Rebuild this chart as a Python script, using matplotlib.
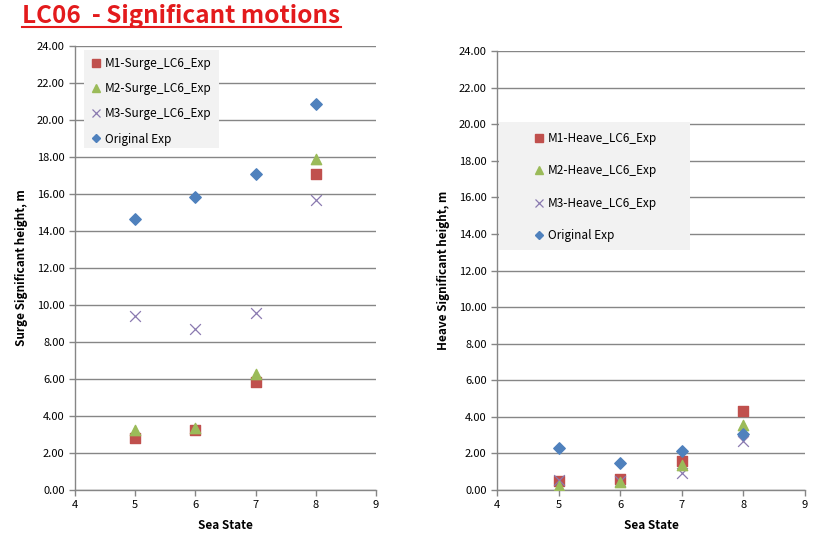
import matplotlib
matplotlib.use("Agg")
import matplotlib.pyplot as plt
from matplotlib.lines import Line2D
from matplotlib.patches import Rectangle

plt.rcParams['font.family'] = ['Noto Sans CJK KR', 'DejaVu Sans']

sea_state = [5, 6, 7, 8]

surge_m1 = [2.83, 3.24, 5.86, 17.06]
surge_m2 = [3.24, 3.37, 6.27, 17.87]
surge_m3 = [9.42, 8.68, 9.55, 15.68]
surge_orig = [14.65, 15.84, 17.06, 20.86]

heave_m1 = [0.49, 0.58, 1.57, 4.33]
heave_m2 = [0.22, 0.45, 1.35, 3.55]
heave_m3 = [0.55, 0.50, 0.91, 2.68]
heave_orig = [2.28, 1.47, 2.11, 3.08]

surge_labels = ["M1-Surge_LC6_Exp", "M2-Surge_LC6_Exp", "M3-Surge_LC6_Exp", "Original Exp"]
heave_labels = ["M1-Heave_LC6_Exp", "M2-Heave_LC6_Exp", "M3-Heave_LC6_Exp", "Original Exp"]
yticks = [0, 2, 4, 6, 8, 10, 12, 14, 16, 18, 20, 22, 24]
xticks = [4, 5, 6, 7, 8, 9]

c_red = '#C0504D'
c_green = '#9BBB59'
c_purple = '#8A7AB0'
c_blue = '#4F81BD'

fig = plt.figure(figsize=(8.19, 5.43), dpi=100)

ax1 = fig.add_axes([75/819, 1-490/543, 301/819, 444/543])
ax2 = fig.add_axes([497/819, 1-490/543, 308/819, 439/543])

def style(ax, ylabel):
    ax.set_xlim(4, 9)
    ax.set_ylim(0, 24)
    ax.set_xticks(xticks)
    ax.set_yticks(yticks)
    ax.set_yticklabels([f"{v:.2f}" for v in yticks])
    ax.tick_params(axis='both', labelsize=8, colors='#000000', length=4, width=1, direction='out', color='#868686')
    ax.grid(axis='y', color='#868686', linewidth=1)
    ax.set_axisbelow(True)
    for s in ['top', 'right']:
        ax.spines[s].set_visible(False)
    for s in ['left', 'bottom']:
        ax.spines[s].set_color('#868686')
        ax.spines[s].set_linewidth(1)
    ax.set_xlabel("Sea State", fontsize=8.5, fontweight='bold', labelpad=6)
    ax.set_ylabel(ylabel, fontsize=8.5, fontweight='bold', labelpad=6)

def plot_series(ax, m1, m2, m3, orig, labels):
    ax.scatter(sea_state, m1, marker='s', s=48, color=c_red, label=labels[0], zorder=3)
    ax.scatter(sea_state, m2, marker='^', s=55, color=c_green, label=labels[1], zorder=4)
    ax.scatter(sea_state, m3, marker='x', s=60, color=c_purple, linewidths=0.9, label=labels[2], zorder=3)
    ax.scatter(sea_state, orig, marker='D', s=34, color=c_blue, label=labels[3], zorder=5)

style(ax1, "Surge Significant height, m")
style(ax2, "Heave Significant height, m")

plot_series(ax1, surge_m1, surge_m2, surge_m3, surge_orig, surge_labels)
plot_series(ax2, heave_m1, heave_m2, heave_m3, heave_orig, heave_labels)

def mk_handles():
    return [
        Line2D([], [], marker='s', linestyle='none', color=c_red, markersize=6),
        Line2D([], [], marker='^', linestyle='none', color=c_green, markersize=6),
        Line2D([], [], marker='x', linestyle='none', color=c_purple, markersize=6, markeredgewidth=0.9),
        Line2D([], [], marker='D', linestyle='none', color=c_blue, markersize=4.5),
    ]

# legend background boxes
ax1.add_patch(Rectangle((0.03, 0.770), 0.4485, 0.221, transform=ax1.transAxes,
                        facecolor='#F2F2F2', edgecolor='none', zorder=8, clip_on=False))
ax2.add_patch(Rectangle((0.0065, 0.5467), 0.620, 0.2913, transform=ax2.transAxes,
                        facecolor='#F2F2F2', edgecolor='none', zorder=8, clip_on=False))

leg1 = ax1.legend(mk_handles(), surge_labels, loc='upper left', bbox_to_anchor=(0.055, 0.975),
                  fontsize=8.5, frameon=False, handlelength=0.8, handletextpad=0.3,
                  labelspacing=1.03, borderpad=0, borderaxespad=0)
leg2 = ax2.legend(mk_handles(), heave_labels, loc='upper left', bbox_to_anchor=(0.122, 0.8155),
                  fontsize=8.5, frameon=False, handlelength=0.8, handletextpad=0.3,
                  labelspacing=1.65, borderpad=0, borderaxespad=0)
leg1.set_zorder(10)
leg2.set_zorder(10)

fig.text(22/819, 1-16/543, "LC06  - Significant motions", color='#E31A1C', fontsize=17.5,
         fontweight='bold', ha='left', va='center')
fig.add_artist(Line2D([22/819, 341/819], [1-27/543, 1-27/543], color='#E31A1C', linewidth=1.5))

fig.savefig("out.png", dpi=100)
